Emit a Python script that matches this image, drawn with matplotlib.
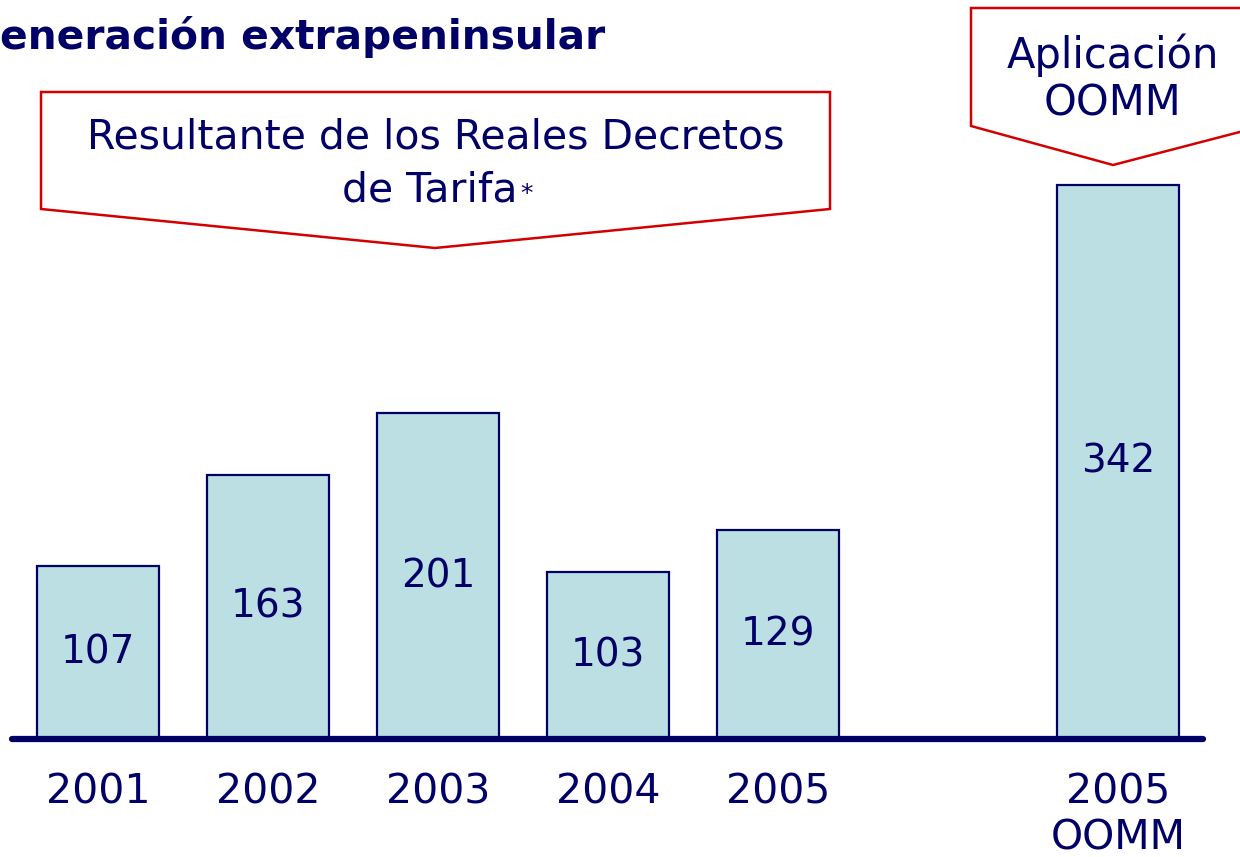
import matplotlib.pyplot as plt
from matplotlib.patches import Polygon

# Data
categories = ["2001", "2002", "2003", "2004", "2005", "2005\nOOMM"]
values = [107, 163, 201, 103, 129, 342]
positions = [0, 1, 2, 3, 4, 6]

navy = "#000066"
bar_fill = "#bbdfe3"
red = "#d40000"

fig = plt.figure(figsize=(12.4, 8.57), dpi=100)
ax = fig.add_axes([0, 0, 1, 1])

# Bars with value labels in the middle
bars = ax.bar(positions, values, width=0.718, color=bar_fill,
              edgecolor=navy, linewidth=1.6, zorder=2)
ax.bar_label(bars, labels=[str(v) for v in values], label_type="center",
             fontsize=28, color=navy, zorder=3)

# Baseline
ax.plot([-0.505, 6.5], [0, 0], color=navy, linewidth=4.5,
        solid_capstyle="round", zorder=4)

# Category labels under the bars
for p, c in zip(positions, categories):
    ax.text(p, -20.5, c, ha="center", va="top", fontsize=29.5,
            color=navy, linespacing=1.2)

ax.set_xlim(-0.5765, 6.7176)
ax.set_ylim(-72.84, 456.2)
ax.axis("off")

# Overlay in pixel coordinates for the callouts and title
ov = fig.add_axes([0, 0, 1, 1], facecolor="none")
ov.set_xlim(0, 1240)
ov.set_ylim(857, 0)
ov.axis("off")

ov.text(0, 37, "eneración extrapeninsular", ha="left", va="center",
        fontsize=29.3, fontweight="bold", color=navy)

box1 = Polygon([(41, 92), (830, 92), (830, 209), (435, 248), (41, 209)],
               closed=True, facecolor="white", edgecolor=red, linewidth=1.8)
ov.add_patch(box1)
ov.text(436, 137, "Resultante de los Reales Decretos", ha="center",
        va="center", fontsize=29.5, color=navy)
ov.text(518, 190, "de Tarifa", ha="right", va="center",
        fontsize=29.5, color=navy)
ov.text(520, 194, "*", ha="left", va="center", fontsize=18, color=navy)

box2 = Polygon([(971, 8), (1255, 8), (1255, 128), (1113, 165), (971, 126)],
               closed=True, facecolor="white", edgecolor=red, linewidth=1.8,
               clip_on=True)
ov.add_patch(box2)
ov.text(1113, 55, "Aplicación", ha="center", va="center",
        fontsize=30, color=navy)
ov.text(1113, 103, "OOMM", ha="center", va="center",
        fontsize=30, color=navy)

fig.savefig("out.png", dpi=100)
